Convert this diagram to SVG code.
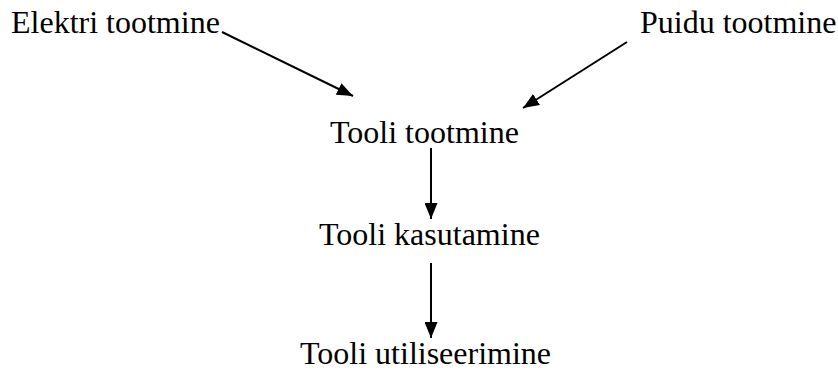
<svg xmlns="http://www.w3.org/2000/svg" width="838" height="370" viewBox="0 0 838 370">
<style>
text{font-family:"Liberation Serif","Times New Roman",serif;font-size:32px;fill:#000}
.c{stroke:#000;stroke-width:2;fill:none}
</style>
<defs>
<marker id="ah" markerWidth="10" markerHeight="8" refX="9" refY="4" orient="auto" markerUnits="userSpaceOnUse" viewBox="0 0 10 8">
<path d="M0,0 L10,4 L0,8 Z" fill="#000"/>
</marker>
</defs>
<rect width="838" height="370" fill="#fff"/>
<g id="elektri"><text x="11" y="33">Elektri tootmine</text></g>
<g id="puidu"><text x="640" y="33">Puidu tootmine</text></g>
<g id="tootmine"><text x="330" y="143">Tooli tootmine</text></g>
<g id="kasutamine"><text x="319" y="245">Tooli kasutamine</text></g>
<g id="utiliseerimine"><text x="300" y="364">Tooli utiliseerimine</text></g>
<g id="connectors">
<defs>
<marker id="a2" markerWidth="16" markerHeight="13" refX="16" refY="6.5" orient="auto" markerUnits="userSpaceOnUse" viewBox="0 0 16 13">
<path d="M0,0 L16,6.5 L0,13 Z" fill="#000"/>
</marker>
</defs>
<line class="c" x1="222" y1="32" x2="353" y2="96" marker-end="url(#a2)"/>
<line class="c" x1="627" y1="42" x2="523" y2="108" marker-end="url(#a2)"/>
<line class="c" x1="431" y1="148" x2="431" y2="219" marker-end="url(#a2)"/>
<line class="c" x1="431" y1="263" x2="431" y2="338" marker-end="url(#a2)"/>
</g>
</svg>
